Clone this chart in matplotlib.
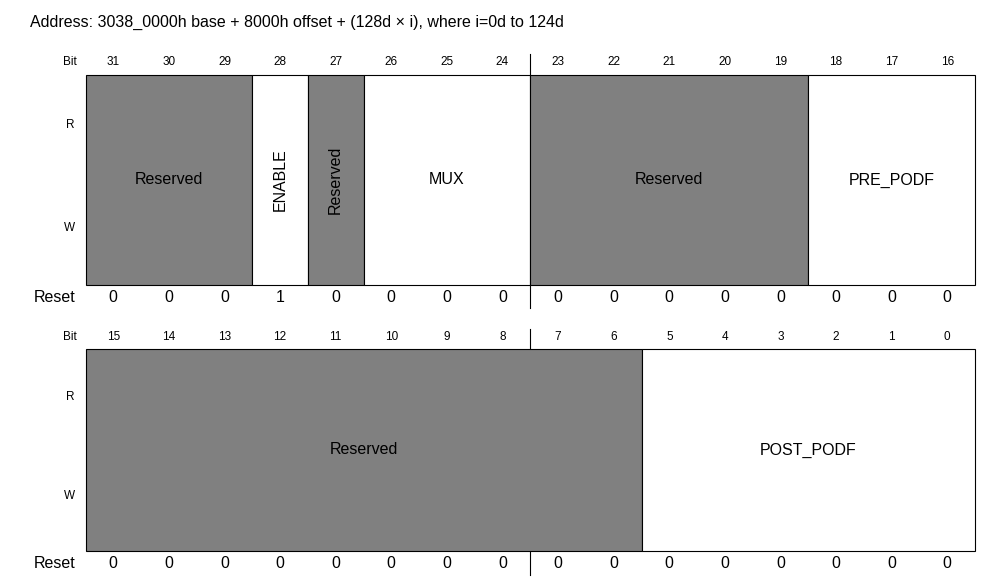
import matplotlib.pyplot as plt
from matplotlib.patches import Rectangle

plt.rcParams['font.family'] = ['Liberation Sans', 'DejaVu Sans']

title = "Address: 3038_0000h base + 8000h offset + (128d \u00d7 i), where i=0d to 124d"

# fields: (name, high bit, low bit, reserved)
fields_hi = [("Reserved", 31, 29, True), ("ENABLE", 28, 28, False),
             ("Reserved", 27, 27, True), ("MUX", 26, 24, False),
             ("Reserved", 23, 19, True), ("PRE_PODF", 18, 16, False)]
fields_lo = [("Reserved", 15, 6, True), ("POST_PODF", 5, 0, False)]
reset_hi = [0, 0, 0, 1, 0, 0, 0, 0, 0, 0, 0, 0, 0, 0, 0, 0]
reset_lo = [0] * 16

W, H = 999, 584
fig = plt.figure(figsize=(W / 100, H / 100), dpi=100)
ax = fig.add_axes([0, 0, 1, 1])
ax.set_xlim(0, W)
ax.set_ylim(H, 0)
ax.axis('off')

x0, cw = 85.5, 55.6
gray = '#808080'

ax.text(30, 22, title, fontsize=11.5, va='center', ha='left')


def draw_register(first_bit, fields, reset, bit_y, top, bot, reset_y):
    ax.text(70, bit_y, "Bit", fontsize=8.5, ha='center', va='center')
    ax.text(70, top + (bot - top) * 0.24, "R", fontsize=8.5, ha='center', va='center')
    ax.text(70, top + (bot - top) * 0.73, "W", fontsize=8.5, ha='center', va='center')
    ax.text(55, reset_y, "Reset", fontsize=11.5, ha='center', va='center')
    for i in range(16):
        cx = x0 + cw * (i + 0.5)
        ax.text(cx, bit_y, str(first_bit - i), fontsize=8.5, ha='center', va='center')
        ax.text(cx, reset_y, str(reset[i]), fontsize=11.5, ha='center', va='center')
    # separator between bytes, hidden behind the field boxes
    sx = x0 + cw * 8
    ax.plot([sx, sx], [bit_y - 8, reset_y + 11], color='black', linewidth=0.8, zorder=1)
    for name, hb, lb, res in fields:
        left = x0 + cw * (first_bit - hb)
        width = cw * (hb - lb + 1)
        ax.add_patch(Rectangle((left, top), width, bot - top,
                               facecolor=gray if res else 'white',
                               edgecolor='black', linewidth=0.8, zorder=2))
        rot = 90 if hb == lb else 0
        ax.text(left + width / 2, (top + bot) / 2, name, fontsize=11.5,
                ha='center', va='center', rotation=rot, zorder=3)


draw_register(31, fields_hi, reset_hi, 62, 75, 285, 297)
draw_register(15, fields_lo, reset_lo, 337, 349, 551, 564)

fig.savefig('out.png', dpi=100)
